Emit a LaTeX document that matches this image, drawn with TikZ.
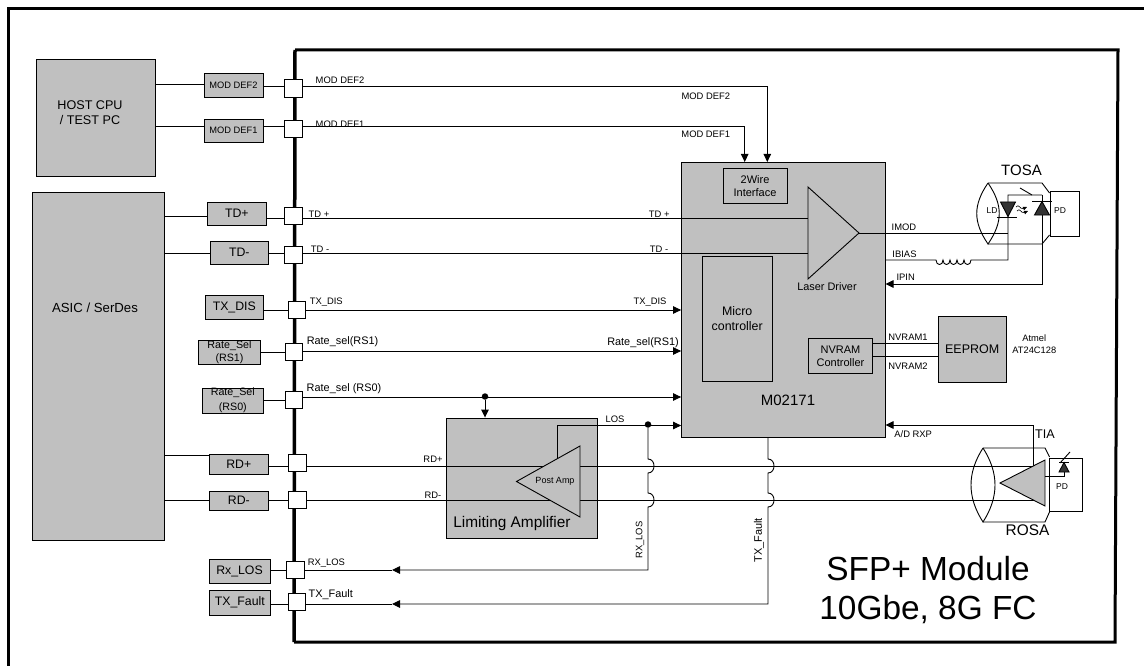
\documentclass[tikz,border=0pt]{standalone}
\usepackage{fontspec}
\setmainfont{Liberation Sans}
\usetikzlibrary{arrows.meta}
\definecolor{blockgray}{RGB}{192,192,192}

\begin{document}
\begin{tikzpicture}[x=1pt, y=-1pt, line width=0.9pt, >={Triangle[length=8pt,width=7.5pt]},
    block/.style={draw,fill=blockgray,inner sep=0pt,align=center,font=\fontsize{12.3}{14}\selectfont},
    smallblock/.style={block,font=\fontsize{9.3}{11}\selectfont},
    ratebox/.style={block,font=\fontsize{10.7}{13}\selectfont},
    inner/.style={draw,inner sep=0pt,align=center,font=\fontsize{11}{13}\selectfont},
    pad/.style={draw,fill=white,inner sep=0pt,minimum width=17.5pt,minimum height=17.5pt},
    sig/.style={inner sep=0pt,font=\fontsize{9.4}{11}\selectfont},
    sigm/.style={inner sep=0pt,font=\fontsize{10.9}{13}\selectfont},
    dot/.style={fill=black,circle,inner sep=0pt,minimum size=6.5pt}]

    \useasboundingbox (0,0) rectangle (1144,666);
    \draw[line width=3pt] (1144,9) -- (8,9) -- (8,666);
    \draw[line width=3pt] (295,50) -- (1118,50) -- (1115,642) -- (294,642);
    \draw[line width=3.5pt] (295,50) -- (294,642);

    % host side
    \node[block,minimum width=118.3pt,minimum height=117.4pt] (host) at (95.8,118) {};
    \node[inner sep=0pt,align=center,font=\fontsize{12.6}{15}\selectfont] (hostname) at (90,112.5) {HOST CPU\\/ TEST PC};
    \node[block,minimum width=132pt,minimum height=348pt] (asic) at (98,366) {};
    \node[inner sep=0pt,font=\fontsize{13.2}{15}\selectfont] (asicname) at (95,308) {ASIC / SerDes};

    \node[smallblock,minimum width=59pt,minimum height=24pt] (bmd2) at (233.5,85) {MOD DEF2};
    \node[smallblock,minimum width=59pt,minimum height=23pt] (bmd1) at (233.5,130.5) {MOD DEF1};
    \node[block,minimum width=58.5pt,minimum height=23pt] (btdp) at (236.8,213.5) {TD+};
    \node[block,minimum width=58.5pt,minimum height=23pt] (btdm) at (239.3,252.5) {\raisebox{-3pt}{TD-}};
    \node[block,minimum width=58.5pt,minimum height=24pt] (bdis) at (234.3,307) {TX\_DIS};
    \node[ratebox,minimum width=62pt,minimum height=24.5pt] (brs1) at (229.5,352.3) {Rate\_Sel\\(RS1)};
    \node[ratebox,minimum width=61.5pt,minimum height=24pt] (brs0) at (232.8,400.5) {Rate\_Sel\\[2pt](RS0)};
    \node[block,minimum width=58.5pt,minimum height=19.5pt] (brdp) at (238.8,464.3) {\raisebox{-3pt}{RD+}};
    \node[block,minimum width=58.5pt,minimum height=19pt] (brdm) at (238.8,500.5) {RD-};
    \node[block,minimum width=61pt,minimum height=24pt] (blos) at (239.5,571) {Rx\_LOS};
    \node[block,minimum width=61.5pt,minimum height=25pt] (bflt) at (239.8,602.5) {TX\_Fault};

    \node[pad] (pmd2) at (293.5,88.5) {};
    \node[pad] (pmd1) at (293.5,129) {};
    \node[pad] (ptdp) at (293.5,216) {};
    \node[pad] (ptdm) at (293.5,255) {};
    \node[pad] (pdis) at (297,310) {};
    \node[pad] (prs1) at (294,352) {};
    \node[pad] (prs0) at (294,400) {};
    \node[pad] (prdp) at (297.5,463) {};
    \node[pad] (prdm) at (297.5,500) {};
    \node[pad] (plos) at (295.3,570) {};
    \node[pad] (pflt) at (296.8,602) {};

    % main chip
    \node[block,minimum width=203.5pt,minimum height=275pt] (chip) at (783.3,299.5) {};
    \node[inner,fill=blockgray,minimum width=64pt,minimum height=34.5pt] (twowire) at (755,185.8) {2Wire\\Interface};
    \node[inner,font=\fontsize{12.4}{15}\selectfont,minimum width=70.5pt,minimum height=125pt] (micro) at (737.2,318.5) {Micro\\controller};
    \node[inner,minimum width=64pt,minimum height=34.5pt] (nvram) at (840.5,355.8) {NVRAM\\Controller};
    \node[inner sep=0pt,font=\fontsize{15}{17}\selectfont] (chipname) at (788,400.5) {M02171};
    \node[sigm] (drvname) at (827,287) {Laser Driver};

    \node[block,font=\fontsize{12.5}{15}\selectfont,minimum width=67.7pt,minimum height=66.7pt] (eeprom) at (972.2,349.4) {EEPROM};
    \node[sig,align=center,font=\fontsize{9.3}{12}\selectfont] (atmel) at (1034.3,344.5) {Atmel\\AT24C128};

    \node[block,minimum width=151pt,minimum height=120pt] (limamp) at (521.5,478) {};
    \node[inner sep=0pt,font=\fontsize{15.4}{18}\selectfont] (limname) at (512,523.5) {Limiting Amplifier};

    % wire ends and corners
    \coordinate (ymd2) at (0,86);
    \coordinate (ymd1) at (0,126);
    \coordinate (ytdp) at (0,218);
    \coordinate (ytdm) at (0,253);
    \coordinate (yrdp) at (0,466);
    \coordinate (yrdm) at (0,500);
    \coordinate (ylos) at (0,570);
    \coordinate (yflt) at (0,604);
    \coordinate (c2) at (767.3,86);
    \coordinate (c1) at (744.7,126);
    \coordinate (e2) at (767.3,162);
    \coordinate (e1) at (744.7,162);
    \coordinate (drvp) at (808,218);
    \coordinate (drvm) at (808,253);
    \coordinate (rosap) at (1036,466);
    \coordinate (rosam) at (1036,500);

    % host side wires
    \draw (host.east |- 0,84.6) -- (bmd2.west |- 0,84.6);
    \draw (bmd2.east |- ymd2) -- (pmd2.west |- ymd2);
    \draw (host.east |- ymd1) -- (bmd1.west |- ymd1);
    \draw (bmd1.east |- ymd1) -- (pmd1.west |- ymd1);
    \draw (asic.east |- ptdp.west) -- (btdp.west |- ptdp.west);
    \draw (btdp.east |- ytdp) -- (ptdp.west |- ytdp);
    \draw (asic.east |- ytdm) -- (btdm.west |- ytdm);
    \draw (btdm.east |- ytdm) -- (ptdm.west |- ytdm);
    \draw (bdis.east |- pdis.west) -- (pdis.west);
    \draw (brs1.east |- prs1.west) -- (prs1.west);
    \draw (brs0.east |- prs0.west) -- (prs0.west);
    \draw (asic.east |- 0,455) -- (brdp.west |- 0,455);
    \draw (brdp.east |- yrdp) -- (prdp.west |- yrdp);
    \draw (asic.east |- yrdm) -- (brdm.west |- yrdm);
    \draw (brdm.east |- yrdm) -- (prdm.west |- yrdm);
    \draw (blos.east |- ylos) -- (plos.west |- ylos);
    \draw (bflt.east |- yflt) -- (pflt.west |- yflt);

    % signals into the chip
    \draw[->] (pmd2.east |- ymd2) -- (c2) -- (e2);
    \draw[->] (pmd1.east |- ymd1) -- (c1) -- (e1);
    \draw (ptdp.east |- ytdp) -- (drvp);
    \draw (ptdm.east |- ytdm) -- (drvm);
    \draw[->] (pdis.east) -- (chip.west |- pdis.east);
    \draw[->] (prs1.east |- 0,351) -- (chip.west |- 0,351);
    \draw[->] (prs0.east |- 0,397) -- (chip.west |- 0,397);
    \node[dot] (dotrs) at (485,396.5) {};
    \draw[->] (dotrs) -- (dotrs |- limamp.north);

    % receive path
    \draw (prdp.east |- yrdp) -- (rosap);
    \draw (prdm.east |- yrdm) -- (rosam);
    \coordinate (ampin) at (557,459);
    \coordinate (ampup) at (557,425.5);
    \draw[->] (ampin) -- (ampup) -- (chip.west |- ampup);
    \draw[fill=blockgray] (516.5,481.5) -- (580,446) -- (580,517) -- cycle;
    \node[inner sep=0pt,font=\fontsize{9}{11}\selectfont] (ampname) at (555,481) {Post Amp};

    % rx_los and tx_fault, with hops
    \node[dot] (dotlos) at (648,424.5) {};
    \coordinate (h1a) at (648,459);
    \coordinate (h1b) at (648,473);
    \coordinate (h2a) at (648,493);
    \coordinate (h2b) at (648,507);
    \coordinate (lcorner) at (648,570);
    \coordinate (ltip) at (392,570);
    \draw[->] (dotlos) -- (h1a) .. controls +(8,0) and +(8,0) .. (h1b) -- (h2a) .. controls +(8,0) and +(8,0) .. (h2b) -- (lcorner) -- (ltip);
    \draw (ltip) -- (plos.east |- ylos);
    \coordinate (h3a) at (768,459);
    \coordinate (h3b) at (768,473);
    \coordinate (h4a) at (768,493);
    \coordinate (h4b) at (768,507);
    \coordinate (fcorner) at (768,604);
    \coordinate (ftip) at (392,604);
    \draw[->] (chip.south -| h3a) -- (h3a) .. controls +(8,0) and +(8,0) .. (h3b) -- (h4a) .. controls +(8,0) and +(8,0) .. (h4b) -- (fcorner) -- (ftip);
    \draw (ftip) -- (pflt.east |- yflt);

    % laser driver
    \draw[fill=blockgray] (808,187) -- (859,233) -- (808,279) -- cycle;
    \coordinate (drvout) at (859,233);

    % tosa
    \coordinate (ldk) at (1008,233);
    \coordinate (ldtop) at (1008,195);
    \coordinate (ldbot) at (1008,260);
    \coordinate (coilb) at (971,260);
    \coordinate (coila) at (936,260);
    \coordinate (pdtop) at (1042,195);
    \coordinate (pdbot) at (1042,284);
    \node[draw,inner sep=0pt,minimum width=29pt,minimum height=44.5pt] (tosapd) at (1064.5,213.7) {};
    \draw (988,183) -- (1042,183) -- (1049.5,193) (1049.5,235) -- (1042,244) -- (988,244);
    \draw (988,183) .. controls (973,205) and (973,222) .. (988,244) .. controls (1003,222) and (1003,205) .. (988,183);
    \draw (drvout) -- (ldk);
    \draw (chip.east |- coila) -- (coila) .. controls +(0,6) and +(0,6) .. ++(7,0) .. controls +(0,6) and +(0,6) .. ++(7,0) .. controls +(0,6) and +(0,6) .. ++(7,0) .. controls +(0,6) and +(0,6) .. ++(7,0) .. controls +(0,6) and +(0,6) .. (coilb) -- (ldbot) -- (ldtop) -- (pdtop);
    \draw[->] (pdtop) -- (pdbot) -- (chip.east |- pdbot);
    \draw[fill=black!80] (1000.5,202) -- (1015.5,202) -- (1008,216.5) -- cycle;
    \draw (997,217) -- (1017,217);
    \draw[fill=black!80] (1034.5,215) -- (1049.5,215) -- (1042,201.5) -- cycle;
    \draw (1032,201.5) -- (1052,201.5);
    \draw (1020,188) -- (1032,195);
    \draw[->,>={Triangle[length=4pt,width=3.5pt]},line width=0.6pt] (1016,207) .. controls (1019,203) and (1020,210) .. (1027,207);
    \draw[->,>={Triangle[length=4pt,width=3.5pt]},line width=0.6pt] (1017,211) .. controls (1020,207) and (1021,214) .. (1028,211);
    \node[inner sep=0pt,font=\fontsize{15}{17}\selectfont] (tosaname) at (1021.5,170) {TOSA};
    \node[inner sep=0pt,font=\fontsize{8.5}{10}\selectfont] (ldname) at (992,210.7) {LD};
    \node[inner sep=0pt,font=\fontsize{8.5}{10}\selectfont] (tpdname) at (1060,210.7) {PD};

    % eeprom wires
    \draw (nvram.east |- 0,343) -- (eeprom.west |- 0,343);
    \draw (nvram.east |- 0,356) -- (eeprom.west |- 0,356);

    % rosa
    \coordinate (tiaup) at (1033,425);
    \coordinate (tiain) at (1033,466);
    \coordinate (pdin) at (1045,476);
    \coordinate (pdcorner) at (1064,476);
    \coordinate (pdanode) at (1064,470);
    \node[draw,inner sep=0pt,minimum width=33pt,minimum height=53pt] (rosapd) at (1065.5,484.5) {};
    \draw (983,448) -- (1045,448) -- (1049.5,457) (1049.5,512) -- (1045,522) -- (983,522);
    \draw (983,448) .. controls (967,473) and (967,497) .. (983,522) .. controls (999,497) and (999,473) .. (983,448);
    \draw[->] (tiain) -- (tiaup) -- (chip.east |- tiaup);
    \draw[fill=blockgray] (1000,483) -- (1045,460) -- (1045,506) -- cycle;
    \draw (pdin) -- (pdcorner) -- (pdanode);
    \draw[fill=black!80] (1059,472) -- (1069,472) -- (1064,462.5) -- cycle;
    \draw (1059,462) -- (1069,462);
    \draw (1060,463) -- (1070,452);
    \node[inner sep=0pt,font=\fontsize{12.6}{14}\selectfont] (tianame) at (1045,434.5) {TIA};
    \node[inner sep=0pt,font=\fontsize{15.4}{18}\selectfont] (rosaname) at (1027.5,529.7) {ROSA};
    \node[inner sep=0pt,font=\fontsize{8.5}{10}\selectfont] (rpdname) at (1062,487) {PD};

    % signal names
    \node[sig] (lmd2a) at (340,80.5) {MOD DEF2};
    \node[sig] (lmd1a) at (340,124.5) {MOD DEF1};
    \node[sig] (lmd2b) at (705.8,96.7) {MOD DEF2};
    \node[sig] (lmd1b) at (705.7,134.7) {MOD DEF1};
    \node[sig] (ltdpa) at (319,214) {TD +};
    \node[sig] (ltdma) at (320,249) {TD -};
    \node[sig] (ltdpb) at (659.3,214.5) {TD +};
    \node[sig] (ltdmb) at (659,249) {TD -};
    \node[sig] (ldisa) at (326.3,301.7) {TX\_DIS};
    \node[sig] (ldisb) at (650,302) {TX\_DIS};
    \node[sigm] (lrs1a) at (342.5,342) {Rate\_sel(RS1)};
    \node[sigm] (lrs1b) at (643,343) {Rate\_sel(RS1)};
    \node[sigm] (lrs0a) at (344,388.7) {Rate\_sel (RS0)};
    \node[sig] (lrdp) at (433,459) {RD+};
    \node[sig] (lrdm) at (433,495) {RD-};
    \node[sig] (llos) at (615,419) {LOS};
    \node[sig] (lrxa) at (326.3,562.7) {RX\_LOS};
    \node[sigm] (lflta) at (330.8,595) {TX\_Fault};
    \node[sig,rotate=90] (lrxb) at (640,540) {RX\_LOS};
    \node[sigm,rotate=90] (lfltb) at (759,540.5) {TX\_Fault};
    \node[sig] (limod) at (904,227.5) {IMOD};
    \node[sig] (libias) at (904.5,254) {IBIAS};
    \node[sig] (lipin) at (905.7,277.5) {IPIN};
    \node[sig] (lnv1) at (908,337.7) {NVRAM1};
    \node[sig] (lnv2) at (908,366) {NVRAM2};
    \node[sig] (lrxp) at (913.2,434.3) {A/D RXP};

    \node[inner sep=0pt,align=center,font=\fontsize{33.4}{39}\selectfont] (modname) at (928,590) {SFP+ Module\\10Gbe, 8G FC};

\end{tikzpicture}
\end{document}
